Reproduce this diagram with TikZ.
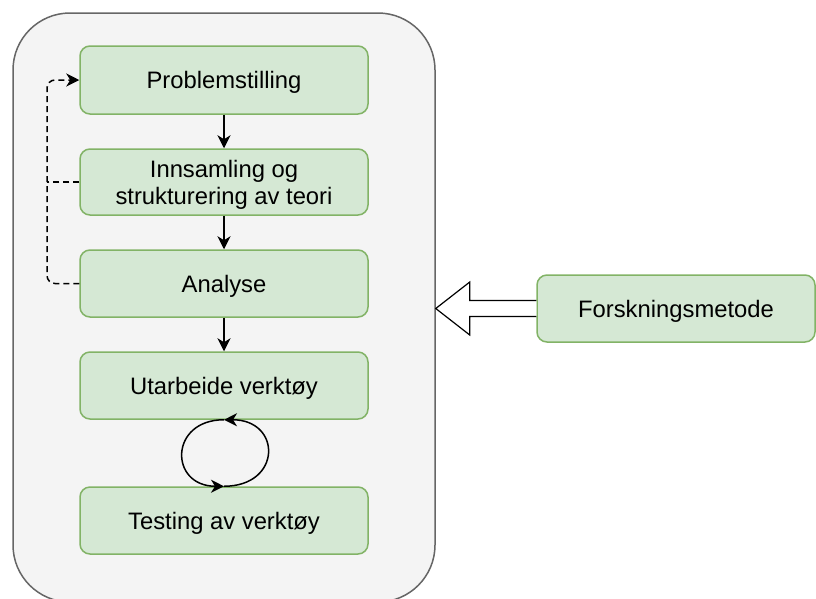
\documentclass[tikz,border=0pt]{standalone}
\usepackage{fontspec}
\setmainfont{Liberation Sans}
\usetikzlibrary{arrows.meta,calc}
\definecolor{gfill}{HTML}{D5E8D4}
\definecolor{gline}{HTML}{82B366}
\definecolor{cfill}{HTML}{F4F4F4}
\definecolor{cline}{HTML}{666666}
\tikzset{
  gbox/.style={draw=gline, fill=gfill, line width=1.5pt, rounded corners=10pt,
    minimum width=288pt, align=center, inner sep=0pt, text depth=0pt,
    font=\fontsize{23.8}{27}\selectfont},
  conn/.style={line width=1.5pt, -{Stealth[length=13pt,width=13pt,inset=4pt]}},
  dconn/.style={line width=1.5pt, dash pattern=on 6pt off 4pt, rounded corners=8pt},
}
\begin{document}
\begin{tikzpicture}[x=1pt,y=-1pt]
\useasboundingbox (0,0) rectangle (816,598);
\begin{scope}
\clip (0,0) rectangle (816,598);
\node[draw=cline, fill=cfill, line width=1.5pt, rounded corners=57pt,
  minimum width=422pt, minimum height=589pt, inner sep=0pt] (cont) at (224,307.5) {};
\end{scope}
\node[gbox, minimum height=68pt] (prob) at (224,80) {Problemstilling};
\node[gbox, minimum height=66pt] (inn) at (224,182) {Innsamling og\\strukturering av teori};
\node[gbox, minimum height=67pt] (ana) at (224,283.5) {Analyse};
\node[gbox, minimum height=67pt] (utar) at (224,385.5) {Utarbeide verkt\o y};
\node[gbox, minimum height=67pt] (tes) at (224,520.5) {Testing av verkt\o y};
\node[gbox, minimum width=278pt, minimum height=67pt] (forsk) at (676,308.5) {Forskningsmetode};
% vertical arrows
\draw[conn] (prob.south) -- (inn.north);
\draw[conn] (inn.south) -- (ana.north);
\draw[conn] (ana.south) -- (utar.north);
% dashed feedback
\coordinate (dx) at (47,283.5);
\draw[dconn, -{Stealth[length=13pt,width=13pt,inset=4pt]}] (ana.west) -- (dx) |- (prob.west);
\draw[dconn] (inn.west) -- (inn.west -| dx);
% loop
\draw[conn] (tes.north) .. controls ($(tes.north)+(58,0)$) and ($(utar.south)+(58,0)$) .. (utar.south);
\draw[conn] (utar.south) .. controls ($(utar.south)+(-55,0)$) and ($(tes.north)+(-55,0)$) .. (tes.north);
% big hollow arrow
\coordinate (tip) at (cont.east |- forsk.west);
\draw[line width=1.2pt, fill=white, line join=miter]
  ($(forsk.west)+(0,-8)$) -- ($(tip)+(34,-8)$) -- ($(tip)+(34,-26.5)$) -- (tip)
  -- ($(tip)+(34,26.5)$) -- ($(tip)+(34,8)$) -- ($(forsk.west)+(0,8)$);
\end{tikzpicture}
\end{document}
